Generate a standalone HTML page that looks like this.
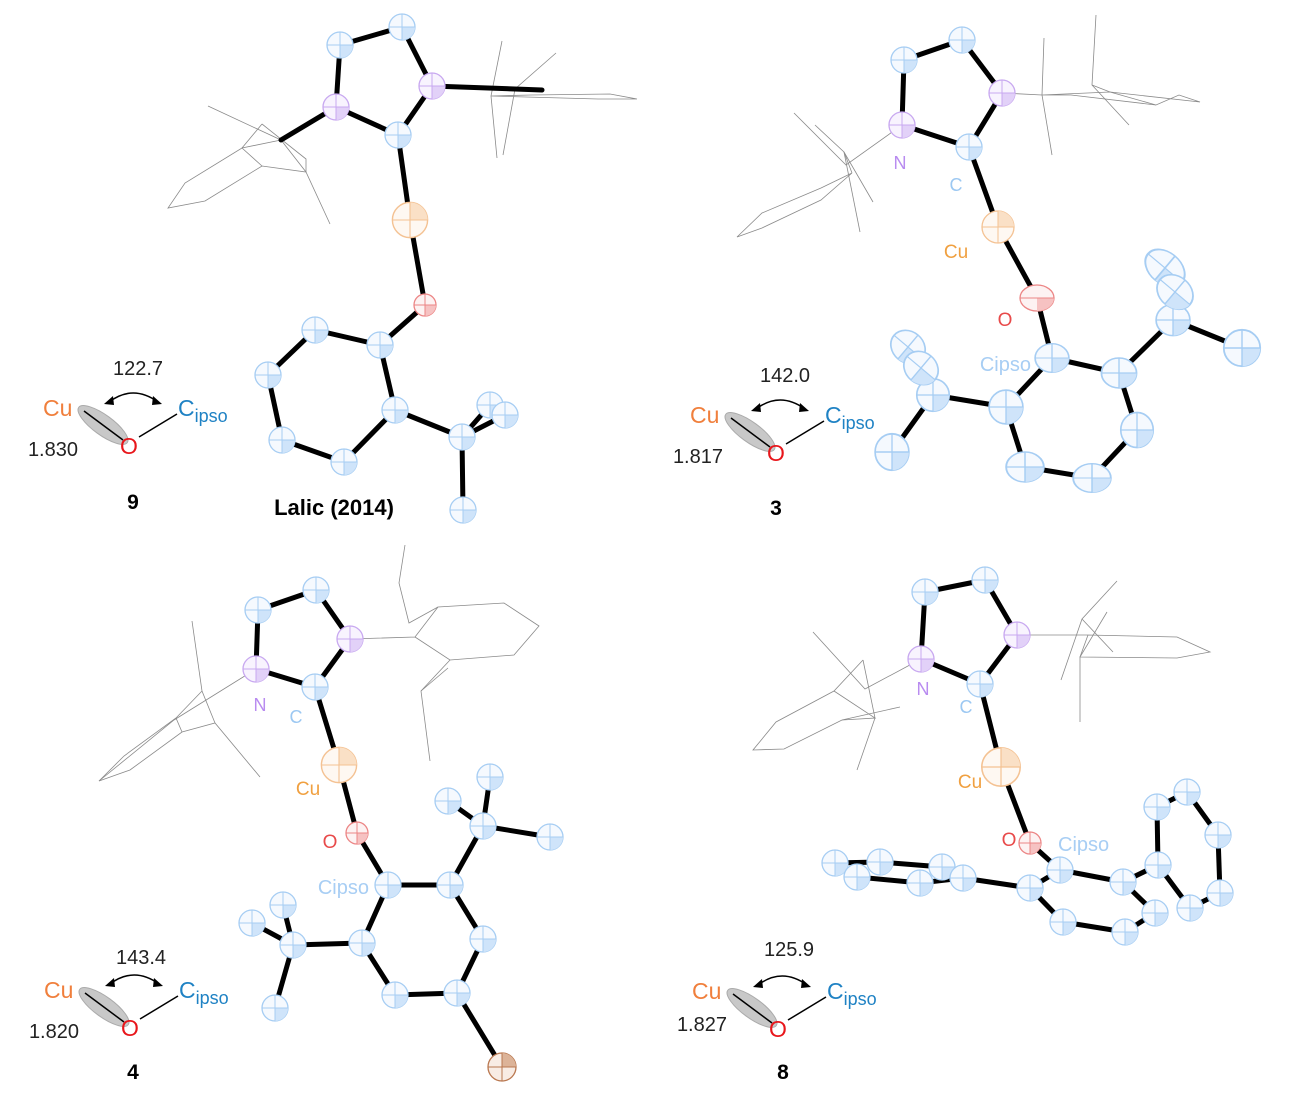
<!DOCTYPE html>
<html><head><meta charset="utf-8"><style>
html,body{margin:0;padding:0;background:#fff;}
svg{display:block;font-family:"Liberation Sans",Arial,sans-serif;}
.b{stroke:#000;stroke-width:5;stroke-linecap:round;fill:none}
.w{stroke:#8a8a8a;stroke-width:0.8;fill:none}
</style></head><body>
<svg width="1296" height="1102" viewBox="0 0 1296 1102" xmlns="http://www.w3.org/2000/svg">
<defs>
<g id="C"><circle r="13" fill="#f5f9fe" stroke="#a6cdf3" stroke-width="1.3"/><path d="M0,0 L13,0 A13,13 0 0 1 0,13Z" fill="#cfe4fa"/><line x1="-13" x2="13" stroke="#a6cdf3"/><line y1="-13" y2="13" stroke="#a6cdf3"/></g>
<g id="N"><circle r="13" fill="#f8f3fe" stroke="#c8a8f0" stroke-width="1.3"/><path d="M0,0 L13,0 A13,13 0 0 1 0,13Z" fill="#e2d1f8"/><line x1="-13" x2="13" stroke="#c8a8f0"/><line y1="-13" y2="13" stroke="#c8a8f0"/></g>
<g id="U"><circle r="16" fill="#fef8f2" stroke="#f4c293" stroke-width="1.3"/><path d="M0,0 L0,-16 A16,16 0 0 1 16,0Z" fill="#fae0c6"/><line x1="-16" x2="16" stroke="#f4c293"/><line y1="-16" y2="16" stroke="#f4c293"/></g>
<g id="O"><circle r="11" fill="#fdf2f2" stroke="#ec8585" stroke-width="1.3"/><path d="M0,0 L11,0 A11,11 0 0 1 0,11Z" fill="#f6c2c2"/><line x1="-11" x2="11" stroke="#ec8585"/><line y1="-11" y2="11" stroke="#ec8585"/></g>
<g id="Br"><circle r="14" fill="#f8ece4" stroke="#b9774f" stroke-width="1.3"/><path d="M0,0 L0,-14 A14,14 0 0 1 14,0Z" fill="#dcb398"/><line x1="-14" x2="14" stroke="#b9774f"/><line y1="-14" y2="14" stroke="#b9774f"/></g>
<g id="inset">
<ellipse cx="0" cy="0" rx="30" ry="10" fill="#c8c8c8" stroke="#aaa" transform="translate(103,425) rotate(36)"/>
<line x1="84" y1="411" x2="123" y2="440" stroke="#000" stroke-width="1.5"/>
<line x1="139" y1="437" x2="177" y2="414" stroke="#000" stroke-width="1.5"/>
<path d="M109,402 Q133,384 158,402" fill="none" stroke="#000" stroke-width="1.5"/>
<path d="M104,404 L113,396 L114,405Z" fill="#000"/>
<path d="M162,404 L153,396 L152,405Z" fill="#000"/>
<text x="43" y="416" font-size="23" fill="#f07f3c">Cu</text>
<text x="120" y="454" font-size="23" fill="#e8161b">O</text>
<text x="178" y="416" font-size="23" fill="#1f82c4">C<tspan font-size="18" dy="6">ipso</tspan></text>
</g>
</defs>

<!-- ===== Panel 1: Lalic ===== -->
<g class="w">
<polyline points="208,106 281,140 306,172 330,224"/>
<polyline points="262,124 306,159 306,172 262,166 205,201 168,208 185,183 242,148 281,140"/>
<polyline points="262,124 242,148 262,166"/>
<polyline points="502,41 491,96 497,158"/>
<polyline points="556,53 515,89 503,155"/>
<polyline points="491,96 598,99 637,99 610,94 531,95 491,96"/>
</g>
<g class="b">
<line x1="340" y1="45" x2="402" y2="27"/><line x1="402" y1="27" x2="432" y2="86"/>
<line x1="432" y1="86" x2="398" y2="135"/><line x1="398" y1="135" x2="336" y2="107"/>
<line x1="336" y1="107" x2="340" y2="45"/>
<line x1="336" y1="107" x2="281" y2="140"/><line x1="432" y1="86" x2="542" y2="90"/>
<line x1="398" y1="135" x2="410" y2="220"/><line x1="410" y1="220" x2="425" y2="305"/>
<line x1="425" y1="305" x2="380" y2="345"/>
<polyline points="380,345 315,330 268,375 282,440 344,462 395,410 380,345"/>
<line x1="395" y1="410" x2="462" y2="437"/><line x1="462" y1="437" x2="490" y2="405"/>
<line x1="462" y1="437" x2="505" y2="415"/><line x1="462" y1="437" x2="463" y2="510"/>
</g>
<use href="#C" x="340" y="45"/><use href="#C" x="402" y="27"/><use href="#N" x="432" y="86"/>
<use href="#C" x="398" y="135"/><use href="#N" x="336" y="107"/>
<g transform="translate(410,220) scale(1.1)"><use href="#U"/></g>
<use href="#O" x="425" y="305"/>
<use href="#C" x="380" y="345"/><use href="#C" x="315" y="330"/><use href="#C" x="268" y="375"/>
<use href="#C" x="282" y="440"/><use href="#C" x="344" y="462"/><use href="#C" x="395" y="410"/>
<use href="#C" x="462" y="437"/><use href="#C" x="490" y="405"/><use href="#C" x="505" y="415"/><use href="#C" x="463" y="510"/>
<use href="#inset"/>
<text x="78" y="456" font-size="20" text-anchor="end" fill="#222">1.830</text>
<text x="138" y="375" font-size="20" text-anchor="middle" fill="#222">122.7</text>
<text x="133" y="509" font-size="21" font-weight="bold" text-anchor="middle">9</text>
<text x="334" y="515" font-size="22" font-weight="bold" text-anchor="middle">Lalic (2014)</text>

<!-- ===== Panel 2: 3 ===== -->
<g class="w">
<polyline points="902,125 846,165 794,113"/>
<polyline points="815,125 844,152 873,202"/>
<polyline points="844,152 860,232"/>
<polyline points="852,173 821,188 762,213 737,237 762,228 821,200 852,173"/>
<polyline points="844,152 852,173"/>
<polyline points="1002,93 1042,95 1110,92 1200,102 1179,95 1156,105 1071,95 1042,95"/>
<polyline points="1044,38 1042,95 1052,155"/>
<polyline points="1096,15 1092,85 1129,125"/>
<polyline points="1092,85 1110,92 1156,105"/>
</g>
<g class="b">
<line x1="904" y1="60" x2="962" y2="40"/><line x1="962" y1="40" x2="1002" y2="93"/>
<line x1="1002" y1="93" x2="969" y2="147"/><line x1="969" y1="147" x2="902" y2="125"/>
<line x1="902" y1="125" x2="904" y2="60"/>
<line x1="969" y1="147" x2="998" y2="227"/><line x1="998" y1="227" x2="1037" y2="298"/>
<line x1="1037" y1="298" x2="1052" y2="358"/>
<polyline points="1052,358 1119,373 1137,430 1092,478 1025,467 1006,407 1052,358"/>
<line x1="1119" y1="373" x2="1173" y2="320"/><line x1="1173" y1="320" x2="1175" y2="290"/>
<line x1="1173" y1="320" x2="1242" y2="348"/>
<line x1="1006" y1="407" x2="933" y2="395"/><line x1="933" y1="395" x2="921" y2="363"/>
<line x1="933" y1="395" x2="892" y2="452"/>
</g>
<use href="#C" x="904" y="60"/><use href="#C" x="962" y="40"/><use href="#N" x="1002" y="93"/>
<use href="#C" x="969" y="147"/><use href="#N" x="902" y="125"/>
<use href="#U" x="998" y="227"/>
<ellipse cx="1037" cy="298" rx="17" ry="13" fill="#fdf2f2" stroke="#ec8585" stroke-width="1.3"/>
<path d="M1037,298 L1054,298 A17,13 0 0 1 1037,311Z" fill="#f6c2c2"/>
<line x1="1020" y1="298" x2="1054" y2="298" stroke="#ec8585"/>
<g transform="translate(1052,358) scale(1.3,1.1)"><use href="#C"/></g>
<g transform="translate(1119,373) scale(1.35,1.15)"><use href="#C"/></g>
<g transform="translate(1137,430) scale(1.25,1.35)"><use href="#C"/></g>
<g transform="translate(1092,478) scale(1.45,1.1)"><use href="#C"/></g>
<g transform="translate(1025,467) scale(1.45,1.15)"><use href="#C"/></g>
<g transform="translate(1006,407) scale(1.3,1.3)"><use href="#C"/></g>
<g transform="translate(1173,320) scale(1.3,1.2)"><use href="#C"/></g>
<g transform="translate(1165,268) rotate(40) scale(1.7,1.2)"><use href="#C"/></g>
<g transform="translate(1175,292) rotate(40) scale(1.5,1.2)"><use href="#C"/></g>
<g transform="translate(1242,348) scale(1.4,1.4)"><use href="#C"/></g>
<g transform="translate(933,395) scale(1.25,1.25)"><use href="#C"/></g>
<g transform="translate(908,347) rotate(40) scale(1.4,1.2)"><use href="#C"/></g>
<g transform="translate(921,368) rotate(40) scale(1.4,1.2)"><use href="#C"/></g>
<g transform="translate(892,452) scale(1.3,1.4)"><use href="#C"/></g>
<text x="900" y="169" font-size="18" text-anchor="middle" fill="#b98cf0">N</text>
<text x="956" y="191" font-size="18" text-anchor="middle" fill="#9cc8f2">C</text>
<text x="956" y="258" font-size="19" text-anchor="middle" fill="#f0a040">Cu</text>
<text x="1005" y="326" font-size="19" text-anchor="middle" fill="#e84a4a">O</text>
<text x="1031" y="371" font-size="20" text-anchor="end" fill="#a8cef4">Cipso</text>
<g transform="translate(647,7)"><use href="#inset"/></g>
<text x="723" y="463" font-size="20" text-anchor="end" fill="#222">1.817</text>
<text x="785" y="382" font-size="20" text-anchor="middle" fill="#222">142.0</text>
<text x="776" y="515" font-size="21" font-weight="bold" text-anchor="middle">3</text>

<!-- ===== Panel 3: 4 ===== -->
<g class="w">
<polyline points="256,669 174,720 99,781 130,770 182,732 215,723 260,777"/>
<polyline points="192,621 202,691 215,723"/>
<polyline points="202,691 176,718 124,756 99,781"/>
<polyline points="176,718 182,732"/>
<polyline points="350,639 415,637 438,607 504,603 539,626 514,655 450,660 415,637"/>
<polyline points="405,545 399,583 409,623 438,607"/>
<polyline points="450,660 421,691 430,761"/>
<polyline points="421,691 448,668"/>
</g>
<g class="b">
<line x1="258" y1="610" x2="316" y2="590"/><line x1="316" y1="590" x2="350" y2="639"/>
<line x1="350" y1="639" x2="315" y2="687"/><line x1="315" y1="687" x2="256" y2="669"/>
<line x1="256" y1="669" x2="258" y2="610"/>
<line x1="315" y1="687" x2="339" y2="765"/><line x1="339" y1="765" x2="357" y2="833"/>
<line x1="357" y1="833" x2="388" y2="885"/>
<polyline points="388,885 450,885 483,939 457,993 395,995 362,943 388,885"/>
<line x1="457" y1="993" x2="502" y2="1067"/>
<line x1="450" y1="885" x2="483" y2="826"/><line x1="483" y1="826" x2="490" y2="777"/>
<line x1="483" y1="826" x2="448" y2="801"/><line x1="483" y1="826" x2="550" y2="837"/>
<line x1="362" y1="943" x2="293" y2="945"/><line x1="293" y1="945" x2="283" y2="905"/>
<line x1="293" y1="945" x2="252" y2="923"/><line x1="293" y1="945" x2="275" y2="1008"/>
</g>
<use href="#C" x="258" y="610"/><use href="#C" x="316" y="590"/><use href="#N" x="350" y="639"/>
<use href="#C" x="315" y="687"/><use href="#N" x="256" y="669"/>
<g transform="translate(339,765) scale(1.1)"><use href="#U"/></g>
<use href="#O" x="357" y="833"/>
<use href="#C" x="388" y="885"/><use href="#C" x="450" y="885"/><use href="#C" x="483" y="939"/>
<use href="#C" x="457" y="993"/><use href="#C" x="395" y="995"/><use href="#C" x="362" y="943"/>
<use href="#Br" x="502" y="1067"/>
<use href="#C" x="483" y="826"/><use href="#C" x="490" y="777"/><use href="#C" x="448" y="801"/><use href="#C" x="550" y="837"/>
<use href="#C" x="293" y="945"/><use href="#C" x="283" y="905"/><use href="#C" x="252" y="923"/><use href="#C" x="275" y="1008"/>
<text x="260" y="711" font-size="18" text-anchor="middle" fill="#b98cf0">N</text>
<text x="296" y="723" font-size="18" text-anchor="middle" fill="#9cc8f2">C</text>
<text x="308" y="795" font-size="19" text-anchor="middle" fill="#f0a040">Cu</text>
<text x="330" y="848" font-size="19" text-anchor="middle" fill="#e84a4a">O</text>
<text x="369" y="894" font-size="20" text-anchor="end" fill="#a8cef4">Cipso</text>
<g transform="translate(1,582)"><use href="#inset"/></g>
<text x="79" y="1038" font-size="20" text-anchor="end" fill="#222">1.820</text>
<text x="141" y="964" font-size="20" text-anchor="middle" fill="#222">143.4</text>
<text x="133" y="1079" font-size="21" font-weight="bold" text-anchor="middle">4</text>

<!-- ===== Panel 4: 8 ===== -->
<g class="w">
<polyline points="921,659 865,689 813,632"/>
<polyline points="863,660 875,718 857,770"/>
<polyline points="863,660 834,691 776,722 753,750 784,749 842,720 900,707"/>
<polyline points="834,691 875,718 842,720"/>
<polyline points="1017,635 1088,635 1177,637 1210,652 1177,658 1080,657 1088,635"/>
<polyline points="1117,581 1082,619 1061,680"/>
<polyline points="1107,612 1080,657 1080,722"/>
<polyline points="1082,619 1113,652"/>
</g>
<g class="b">
<line x1="925" y1="592" x2="985" y2="580"/><line x1="985" y1="580" x2="1017" y2="635"/>
<line x1="1017" y1="635" x2="980" y2="684"/><line x1="980" y1="684" x2="921" y2="659"/>
<line x1="921" y1="659" x2="925" y2="592"/>
<line x1="980" y1="684" x2="1001" y2="767"/><line x1="1001" y1="767" x2="1030" y2="843"/>
<line x1="1030" y1="843" x2="1060" y2="870"/>
<polyline points="1060,870 1123,882 1155,913 1125,932 1063,922 1030,888 1060,870"/>
<line x1="1123" y1="882" x2="1158" y2="865"/>
<polyline points="1158,865 1157,807 1187,792 1218,835 1220,893 1190,908 1158,865"/>
<line x1="1030" y1="888" x2="963" y2="878"/>
<polyline points="963,878 942,867 880,862 835,863 857,877 920,883 963,878"/>
</g>
<use href="#C" x="925" y="592"/><use href="#C" x="985" y="580"/><use href="#N" x="1017" y="635"/>
<use href="#C" x="980" y="684"/><use href="#N" x="921" y="659"/>
<g transform="translate(1001,767) scale(1.2)"><use href="#U"/></g>
<use href="#O" x="1030" y="843"/>
<use href="#C" x="1060" y="870"/><use href="#C" x="1123" y="882"/><use href="#C" x="1155" y="913"/>
<use href="#C" x="1125" y="932"/><use href="#C" x="1063" y="922"/><use href="#C" x="1030" y="888"/>
<use href="#C" x="1158" y="865"/><use href="#C" x="1157" y="807"/><use href="#C" x="1187" y="792"/>
<use href="#C" x="1218" y="835"/><use href="#C" x="1220" y="893"/><use href="#C" x="1190" y="908"/>
<use href="#C" x="835" y="863"/><use href="#C" x="857" y="877"/><use href="#C" x="880" y="862"/>
<use href="#C" x="920" y="883"/><use href="#C" x="942" y="867"/><use href="#C" x="963" y="878"/>
<text x="923" y="695" font-size="18" text-anchor="middle" fill="#b98cf0">N</text>
<text x="966" y="713" font-size="18" text-anchor="middle" fill="#9cc8f2">C</text>
<text x="970" y="788" font-size="19" text-anchor="middle" fill="#f0a040">Cu</text>
<text x="1009" y="846" font-size="19" text-anchor="middle" fill="#e84a4a">O</text>
<text x="1058" y="851" font-size="20" fill="#a8cef4">Cipso</text>
<g transform="translate(649,583)"><use href="#inset"/></g>
<text x="727" y="1031" font-size="20" text-anchor="end" fill="#222">1.827</text>
<text x="789" y="956" font-size="20" text-anchor="middle" fill="#222">125.9</text>
<text x="783" y="1079" font-size="21" font-weight="bold" text-anchor="middle">8</text>
</svg>
</body></html>
